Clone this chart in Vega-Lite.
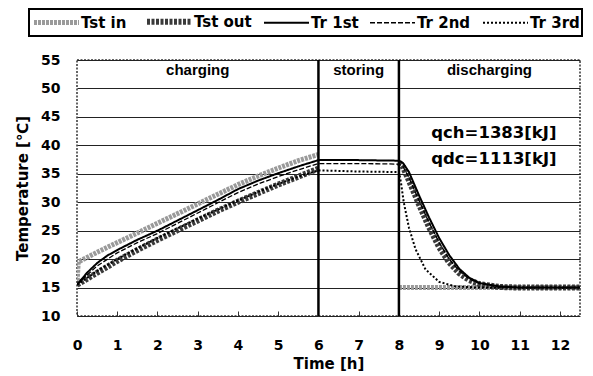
{
  "$schema": "https://vega.github.io/schema/vega-lite/v6.json",
  "width": 503,
  "height": 256,
  "autosize": {"type": "none"},
  "padding": {"left": 77, "top": 60, "right": 13, "bottom": 60},
  "background": "white",
  "config": {
    "font": "DejaVu Sans",
    "view": {"stroke": "#333", "strokeDash": [2, 1.5], "strokeWidth": 1.5},
    "legend": {
      "orient": "none", "legendX": -48, "legendY": -51, "direction": "horizontal", "columns": 5,
      "strokeColor": "black", "strokeWidth": 2, "fillColor": "white", "padding": 2,
      "labelFont": "DejaVu Sans", "labelFontSize": 15, "labelFontWeight": "bold", "labelColor": "black",
      "symbolSize": 225, "symbolType": "M-1,0H5", "labelOffset": 29, "columnPadding": 8, "labelLimit": 200
    }
  },
  "datasets": {
    "series": [
      {"s": "Tst in", "seg": "a", "t": 0, "v": 15.5},
      {"s": "Tst in", "seg": "a", "t": 0.03, "v": 19.5},
      {"s": "Tst in", "seg": "a", "t": 0.5, "v": 21.2},
      {"s": "Tst in", "seg": "a", "t": 1, "v": 22.9},
      {"s": "Tst in", "seg": "a", "t": 1.5, "v": 24.6},
      {"s": "Tst in", "seg": "a", "t": 2, "v": 26.3},
      {"s": "Tst in", "seg": "a", "t": 2.5, "v": 28.0},
      {"s": "Tst in", "seg": "a", "t": 3, "v": 29.7},
      {"s": "Tst in", "seg": "a", "t": 3.5, "v": 31.4},
      {"s": "Tst in", "seg": "a", "t": 4, "v": 33.1},
      {"s": "Tst in", "seg": "a", "t": 4.5, "v": 34.6},
      {"s": "Tst in", "seg": "a", "t": 5, "v": 36.0},
      {"s": "Tst in", "seg": "a", "t": 5.5, "v": 37.3},
      {"s": "Tst in", "seg": "a", "t": 6, "v": 38.4},
      {"s": "Tst in", "seg": "b", "t": 8, "v": 15.0},
      {"s": "Tst in", "seg": "b", "t": 10, "v": 15.0},
      {"s": "Tst in", "seg": "b", "t": 12.5, "v": 15.0},

      {"s": "Tst out", "seg": "a", "t": 0, "v": 15.5},
      {"s": "Tst out", "seg": "a", "t": 0.5, "v": 17.6},
      {"s": "Tst out", "seg": "a", "t": 1, "v": 19.7},
      {"s": "Tst out", "seg": "a", "t": 1.5, "v": 21.6},
      {"s": "Tst out", "seg": "a", "t": 2, "v": 23.4},
      {"s": "Tst out", "seg": "a", "t": 2.5, "v": 25.1},
      {"s": "Tst out", "seg": "a", "t": 3, "v": 26.8},
      {"s": "Tst out", "seg": "a", "t": 3.5, "v": 28.5},
      {"s": "Tst out", "seg": "a", "t": 4, "v": 30.1},
      {"s": "Tst out", "seg": "a", "t": 4.5, "v": 31.6},
      {"s": "Tst out", "seg": "a", "t": 5, "v": 33.1},
      {"s": "Tst out", "seg": "a", "t": 5.5, "v": 34.5},
      {"s": "Tst out", "seg": "a", "t": 6, "v": 35.9},
      {"s": "Tst out", "seg": "b", "t": 8, "v": 37.0},
      {"s": "Tst out", "seg": "b", "t": 8.1, "v": 36.2},
      {"s": "Tst out", "seg": "b", "t": 8.25, "v": 33.8},
      {"s": "Tst out", "seg": "b", "t": 8.5, "v": 29.6},
      {"s": "Tst out", "seg": "b", "t": 8.75, "v": 25.6},
      {"s": "Tst out", "seg": "b", "t": 9, "v": 22.1},
      {"s": "Tst out", "seg": "b", "t": 9.25, "v": 19.4},
      {"s": "Tst out", "seg": "b", "t": 9.5, "v": 17.5},
      {"s": "Tst out", "seg": "b", "t": 9.75, "v": 16.3},
      {"s": "Tst out", "seg": "b", "t": 10, "v": 15.6},
      {"s": "Tst out", "seg": "b", "t": 10.5, "v": 15.1},
      {"s": "Tst out", "seg": "b", "t": 11, "v": 15.0},
      {"s": "Tst out", "seg": "b", "t": 12.5, "v": 15.0},

      {"s": "Tr 1st", "seg": "a", "t": 0, "v": 15.5},
      {"s": "Tr 1st", "seg": "a", "t": 0.25, "v": 17.6},
      {"s": "Tr 1st", "seg": "a", "t": 0.5, "v": 19.3},
      {"s": "Tr 1st", "seg": "a", "t": 0.75, "v": 20.6},
      {"s": "Tr 1st", "seg": "a", "t": 1, "v": 21.6},
      {"s": "Tr 1st", "seg": "a", "t": 1.5, "v": 23.4},
      {"s": "Tr 1st", "seg": "a", "t": 2, "v": 25.0},
      {"s": "Tr 1st", "seg": "a", "t": 2.5, "v": 26.8},
      {"s": "Tr 1st", "seg": "a", "t": 3, "v": 28.6},
      {"s": "Tr 1st", "seg": "a", "t": 3.5, "v": 30.4},
      {"s": "Tr 1st", "seg": "a", "t": 4, "v": 32.3},
      {"s": "Tr 1st", "seg": "a", "t": 4.5, "v": 33.8},
      {"s": "Tr 1st", "seg": "a", "t": 5, "v": 35.1},
      {"s": "Tr 1st", "seg": "a", "t": 5.5, "v": 36.3},
      {"s": "Tr 1st", "seg": "a", "t": 6, "v": 37.4},
      {"s": "Tr 1st", "seg": "a", "t": 7, "v": 37.4},
      {"s": "Tr 1st", "seg": "a", "t": 8, "v": 37.3},
      {"s": "Tr 1st", "seg": "a", "t": 8.1, "v": 36.9},
      {"s": "Tr 1st", "seg": "a", "t": 8.25, "v": 35.3},
      {"s": "Tr 1st", "seg": "a", "t": 8.5, "v": 31.2},
      {"s": "Tr 1st", "seg": "a", "t": 8.75, "v": 27.3},
      {"s": "Tr 1st", "seg": "a", "t": 9, "v": 23.7},
      {"s": "Tr 1st", "seg": "a", "t": 9.25, "v": 20.7},
      {"s": "Tr 1st", "seg": "a", "t": 9.5, "v": 18.3},
      {"s": "Tr 1st", "seg": "a", "t": 9.75, "v": 16.7},
      {"s": "Tr 1st", "seg": "a", "t": 10, "v": 15.8},
      {"s": "Tr 1st", "seg": "a", "t": 10.5, "v": 15.2},
      {"s": "Tr 1st", "seg": "a", "t": 11, "v": 15.0},
      {"s": "Tr 1st", "seg": "a", "t": 12.5, "v": 15.0},

      {"s": "Tr 2nd", "seg": "a", "t": 0, "v": 15.5},
      {"s": "Tr 2nd", "seg": "a", "t": 0.25, "v": 17.2},
      {"s": "Tr 2nd", "seg": "a", "t": 0.5, "v": 18.8},
      {"s": "Tr 2nd", "seg": "a", "t": 1, "v": 21.1},
      {"s": "Tr 2nd", "seg": "a", "t": 1.5, "v": 22.9},
      {"s": "Tr 2nd", "seg": "a", "t": 2, "v": 24.5},
      {"s": "Tr 2nd", "seg": "a", "t": 2.5, "v": 26.3},
      {"s": "Tr 2nd", "seg": "a", "t": 3, "v": 28.1},
      {"s": "Tr 2nd", "seg": "a", "t": 3.5, "v": 29.9},
      {"s": "Tr 2nd", "seg": "a", "t": 4, "v": 31.7},
      {"s": "Tr 2nd", "seg": "a", "t": 4.5, "v": 33.2},
      {"s": "Tr 2nd", "seg": "a", "t": 5, "v": 34.5},
      {"s": "Tr 2nd", "seg": "a", "t": 5.5, "v": 35.7},
      {"s": "Tr 2nd", "seg": "a", "t": 6, "v": 36.8},
      {"s": "Tr 2nd", "seg": "a", "t": 7, "v": 36.8},
      {"s": "Tr 2nd", "seg": "a", "t": 8, "v": 36.7},
      {"s": "Tr 2nd", "seg": "a", "t": 8.1, "v": 36.3},
      {"s": "Tr 2nd", "seg": "a", "t": 8.25, "v": 34.3},
      {"s": "Tr 2nd", "seg": "a", "t": 8.5, "v": 30.3},
      {"s": "Tr 2nd", "seg": "a", "t": 8.75, "v": 26.4},
      {"s": "Tr 2nd", "seg": "a", "t": 9, "v": 22.9},
      {"s": "Tr 2nd", "seg": "a", "t": 9.25, "v": 20.0},
      {"s": "Tr 2nd", "seg": "a", "t": 9.5, "v": 17.9},
      {"s": "Tr 2nd", "seg": "a", "t": 9.75, "v": 16.5},
      {"s": "Tr 2nd", "seg": "a", "t": 10, "v": 15.7},
      {"s": "Tr 2nd", "seg": "a", "t": 10.5, "v": 15.1},
      {"s": "Tr 2nd", "seg": "a", "t": 11, "v": 15.0},
      {"s": "Tr 2nd", "seg": "a", "t": 12.5, "v": 15.0},

      {"s": "Tr 3rd", "seg": "a", "t": 0, "v": 15.5},
      {"s": "Tr 3rd", "seg": "a", "t": 0.5, "v": 17.9},
      {"s": "Tr 3rd", "seg": "a", "t": 1, "v": 20.0},
      {"s": "Tr 3rd", "seg": "a", "t": 1.5, "v": 21.9},
      {"s": "Tr 3rd", "seg": "a", "t": 2, "v": 23.7},
      {"s": "Tr 3rd", "seg": "a", "t": 2.5, "v": 25.4},
      {"s": "Tr 3rd", "seg": "a", "t": 3, "v": 27.1},
      {"s": "Tr 3rd", "seg": "a", "t": 3.5, "v": 28.7},
      {"s": "Tr 3rd", "seg": "a", "t": 4, "v": 30.3},
      {"s": "Tr 3rd", "seg": "a", "t": 4.5, "v": 31.8},
      {"s": "Tr 3rd", "seg": "a", "t": 5, "v": 33.2},
      {"s": "Tr 3rd", "seg": "a", "t": 5.5, "v": 34.5},
      {"s": "Tr 3rd", "seg": "a", "t": 6, "v": 35.6},
      {"s": "Tr 3rd", "seg": "a", "t": 7, "v": 35.4},
      {"s": "Tr 3rd", "seg": "a", "t": 8, "v": 35.3},
      {"s": "Tr 3rd", "seg": "a", "t": 8.05, "v": 33.5},
      {"s": "Tr 3rd", "seg": "a", "t": 8.12, "v": 30.0},
      {"s": "Tr 3rd", "seg": "a", "t": 8.25, "v": 25.5},
      {"s": "Tr 3rd", "seg": "a", "t": 8.41, "v": 21.8},
      {"s": "Tr 3rd", "seg": "a", "t": 8.66, "v": 18.2},
      {"s": "Tr 3rd", "seg": "a", "t": 9, "v": 16.0},
      {"s": "Tr 3rd", "seg": "a", "t": 9.4, "v": 15.2},
      {"s": "Tr 3rd", "seg": "a", "t": 10, "v": 15.0},
      {"s": "Tr 3rd", "seg": "a", "t": 12.5, "v": 15.0}
    ],
    "phases": [{"t": 6, "v": 10, "v2": 55}, {"t": 8, "v": 10, "v2": 55}],
    "labels": [
      {"t": 3, "v": 53.2, "txt": "charging", "k": "phase"},
      {"t": 7, "v": 53.2, "txt": "storing", "k": "phase"},
      {"t": 10.25, "v": 53.2, "txt": "discharging", "k": "phase"},
      {"t": 10.36, "v": 42.1, "txt": "qch=1383[kJ]", "k": "q"},
      {"t": 10.36, "v": 37.6, "txt": "qdc=1113[kJ]", "k": "q"}
    ]
  },
  "encoding": {
    "x": {
      "field": "t", "type": "quantitative",
      "scale": {"domain": [0, 12.5], "nice": false, "zero": false},
      "axis": {
        "title": "Time [h]", "values": [0,1,2,3,4,5,6,7,8,9,10,11,12],
        "grid": false, "domain": false, "ticks": true, "tickSize": -5, "tickColor": "#333",
        "labelFont": "DejaVu Sans", "labelFontSize": 14, "labelFontWeight": "bold", "labelColor": "black", "labelPadding": 27,
        "labelFlush": false, "labelOverlap": false,
        "titleFont": "DejaVu Sans", "titleFontSize": 15, "titleFontWeight": "bold", "titleColor": "black", "titlePadding": 4
      }
    },
    "y": {
      "field": "v", "type": "quantitative",
      "scale": {"domain": [10, 55], "nice": false, "zero": false},
      "axis": {
        "title": "Temperature [℃]", "values": [10,15,20,25,30,35,40,45,50,55],
        "grid": true, "gridColor": "#222", "gridWidth": 1, "gridOpacity": 1,
        "domain": false, "ticks": false,
        "labelFont": "DejaVu Sans", "labelFontSize": 14, "labelFontWeight": "bold", "labelColor": "black", "labelPadding": 17,
        "labelFlush": false, "labelOverlap": false,
        "titleFont": "DejaVu Sans", "titleFontSize": 15, "titleFontWeight": "bold", "titleColor": "black", "titlePadding": 10
      }
    }
  },
  "layer": [
    {
      "data": {"name": "series"},
      "mark": {"type": "line", "clip": true},
      "encoding": {
        "detail": {"field": "seg"},
        "color": {
          "field": "s", "type": "nominal",
          "scale": {"domain": ["Tst in", "Tst out", "Tr 1st", "Tr 2nd", "Tr 3rd"], "range": ["#9a9a9a", "#3a3a3a", "#000000", "#000000", "#000000"]},
          "legend": {"title": null}
        },
        "strokeWidth": {
          "field": "s", "type": "nominal",
          "scale": {"type": "ordinal", "domain": ["Tst in", "Tst out", "Tr 1st", "Tr 2nd", "Tr 3rd"], "range": [5, 6, 2, 1.3, 2]},
          "legend": {"title": null}
        },
        "strokeDash": {
          "field": "s", "type": "nominal",
          "scale": {"domain": ["Tst in", "Tst out", "Tr 1st", "Tr 2nd", "Tr 3rd"], "range": [[3, 1], [3, 1.5], [1, 0], [5, 2], [2, 2]]},
          "legend": {"title": null}
        }
      }
    },
    {
      "data": {"name": "phases"},
      "mark": {"type": "rule", "color": "black", "strokeWidth": 2.5},
      "encoding": {"y2": {"field": "v2"}}
    },
    {
      "data": {"name": "labels"},
      "transform": [{"filter": "datum.k == 'phase'"}],
      "mark": {"type": "text", "fontSize": 15, "fontWeight": "bold", "color": "black", "font": "Liberation Sans"},
      "encoding": {"text": {"field": "txt"}}
    },
    {
      "data": {"name": "labels"},
      "transform": [{"filter": "datum.k == 'q'"}],
      "mark": {"type": "text", "fontSize": 16.5, "fontWeight": "bold", "color": "black", "font": "DejaVu Sans"},
      "encoding": {"text": {"field": "txt"}}
    }
  ]
}
